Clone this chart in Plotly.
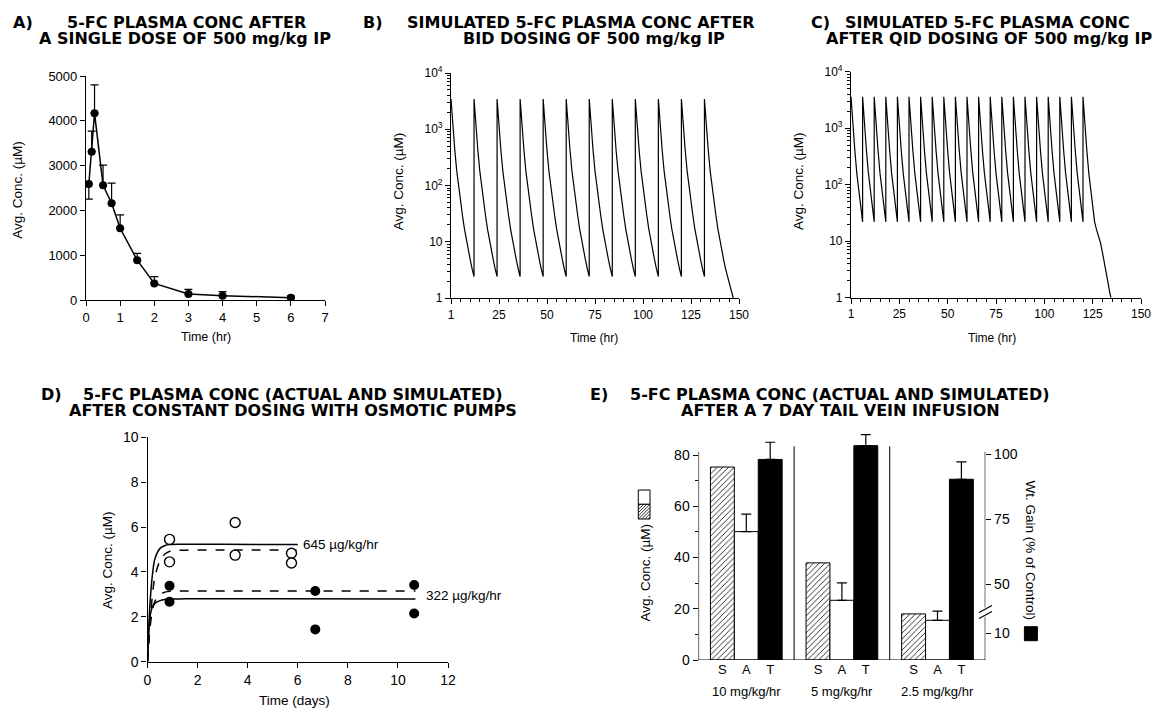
import plotly.graph_objects as go

W, H = 1154, 709

# ---------------- DATA ----------------
# Panel A: single dose
a_time = [0.083, 0.167, 0.25, 0.5, 0.75, 1, 1.5, 2, 3, 4, 6]
a_conc = [2590, 3310, 4170, 2560, 2160, 1600, 890, 370, 135, 97, 52]
a_err_up = [0, 460, 630, 450, 450, 300, 150, 150, 100, 90, 40]
a_err_down = [340, 0, 0, 0, 0, 0, 0, 0, 0, 0, 0]

# Panel B: BID simulated (per-dose profile)
bid_dose_times = [0, 12, 24, 36, 48, 60, 72, 84, 96, 108, 120, 132]
bid_profile_hr = [0, 0.5, 1, 2, 3, 4, 5, 6, 7, 8, 9, 10, 11, 12]
bid_profile_conc = [3450, 1900, 1050, 420, 180, 92, 50, 29, 17, 10.5, 7, 4.8, 3.3, 2.4]
bid_tail_hr = [13, 14, 15]
bid_tail_conc = [1.8, 1.35, 1.0]

# Panel C: QID simulated
qid_dose_times = [0, 6, 12, 18, 24, 30, 36, 42, 48, 54, 60, 66, 72, 78, 84, 90, 96, 102, 108, 114, 120]
qid_profile_hr = [0, 0.5, 1, 2, 3, 4, 5, 6]
qid_profile_conc = [3600, 1950, 1100, 400, 160, 75, 38, 22]
qid_tail_hr = [7, 8, 9, 10, 11, 12, 13, 14, 14.5]
qid_tail_conc = [16, 12.5, 9.5, 6.5, 4.0, 2.6, 1.8, 1.15, 1.0]

# Panel D: osmotic pumps
d_obs645_t = [0.88, 0.88, 3.5, 3.5, 5.75, 5.75]
d_obs645_c = [5.45, 4.45, 6.2, 4.75, 4.83, 4.4]
d_obs322_t = [0.88, 0.88, 6.7, 6.7, 10.65, 10.65]
d_obs322_c = [3.38, 2.67, 3.15, 1.44, 3.42, 2.15]
d_sim645_t = [0, 0.05, 0.1, 0.2, 0.3, 0.5, 0.7, 0.9, 1.5, 3, 6]
d_sim645_solid = [0, 1.5, 2.6, 3.9, 4.6, 5.05, 5.18, 5.22, 5.23, 5.23, 5.22]
d_sim645_dash = [0, 0.9, 1.7, 3.0, 3.8, 4.5, 4.8, 4.92, 4.97, 4.98, 4.98]
d_sim322_t = [0, 0.05, 0.1, 0.2, 0.3, 0.5, 0.7, 0.9, 1.5, 5, 10.7]
d_sim322_solid = [0, 1.3, 2.0, 2.45, 2.6, 2.72, 2.77, 2.79, 2.8, 2.8, 2.79]
d_sim322_dash = [0, 0.8, 1.5, 2.3, 2.7, 3.0, 3.1, 3.14, 3.15, 3.15, 3.15]
d_label_645 = "645 µg/kg/hr"
d_label_322 = "322 µg/kg/hr"

# Panel E: tail vein infusion
e_groups = ["10 mg/kg/hr", "5 mg/kg/hr", "2.5 mg/kg/hr"]
e_sim = [75.3, 37.9, 18.0]          # S, µM
e_act = [50.1, 23.3, 15.5]          # A, µM
e_act_err = [6.8, 6.8, 3.6]
e_wt = [98.0, 103.3, 90.4]          # T, % of control
e_wt_err = [6.6, 4.2, 6.7]
e_bar_letters = ["S", "A", "T"]
e_right_ticks = ["10", "50", "75", "100"]
e_right_tickpos = [31.27, 50, 75, 100]   # positions on the broken right axis

# ---------------- helpers ----------------
def px(p):
    return p / W

def py(p):
    return 1 - p / H

FONT = "Liberation Sans"
TFONT = "DejaVu Sans"

def build_cycles(doses, prof_h, prof_c, tail_h, tail_c):
    xs, ys = [], []
    for i, t in enumerate(doses):
        for h, c in zip(prof_h, prof_c):
            xs.append(t + h)
            ys.append(c)
        if i == len(doses) - 1:
            for h, c in zip(tail_h, tail_c):
                xs.append(t + h)
                ys.append(c)
    return xs, ys

fig = go.Figure()

# A
fig.add_trace(go.Scatter(
    x=a_time, y=a_conc, mode="lines+markers", xaxis="x", yaxis="y",
    line=dict(color="black", width=1.5),
    marker=dict(color="black", size=8),
    error_y=dict(type="data", symmetric=False, array=a_err_up, arrayminus=a_err_down,
                 color="black", thickness=1.2, width=4),
    showlegend=False))

# B
bx, by = build_cycles(bid_dose_times, bid_profile_hr, bid_profile_conc, bid_tail_hr, bid_tail_conc)
fig.add_trace(go.Scatter(x=bx, y=by, mode="lines", xaxis="x2", yaxis="y2",
                         line=dict(color="black", width=1.2), showlegend=False))

# C
cx, cy = build_cycles(qid_dose_times, qid_profile_hr, qid_profile_conc, qid_tail_hr, qid_tail_conc)
fig.add_trace(go.Scatter(x=cx, y=cy, mode="lines", xaxis="x3", yaxis="y3",
                         line=dict(color="black", width=1.2), showlegend=False))

# D
for t, c, dash in [(d_sim645_t, d_sim645_solid, "solid"), (d_sim645_t, d_sim645_dash, "dash"),
                   (d_sim322_t, d_sim322_solid, "solid"), (d_sim322_t, d_sim322_dash, "dash")]:
    fig.add_trace(go.Scatter(x=t, y=c, mode="lines", xaxis="x4", yaxis="y4",
                             line=dict(color="black", width=1.5, dash=dash, shape="spline"),
                             showlegend=False))
fig.add_trace(go.Scatter(x=d_obs645_t, y=d_obs645_c, mode="markers", xaxis="x4", yaxis="y4",
                         marker=dict(color="white", size=10, line=dict(color="black", width=1.4)),
                         showlegend=False))
fig.add_trace(go.Scatter(x=d_obs322_t, y=d_obs322_c, mode="markers", xaxis="x4", yaxis="y4",
                         marker=dict(color="black", size=10), showlegend=False))

# E
pos_s = [4 * i for i in range(len(e_groups))]
pos_a = [4 * i + 1 for i in range(len(e_groups))]
pos_t = [4 * i + 2 for i in range(len(e_groups))]
fig.add_trace(go.Bar(x=pos_s, y=e_sim, width=1, xaxis="x5", yaxis="y5",
                     marker=dict(color="white", line=dict(color="black", width=1),
                                 pattern=dict(shape="/", fgcolor="black", bgcolor="white",
                                              size=4, solidity=0.2)),
                     showlegend=False))
fig.add_trace(go.Bar(x=pos_a, y=e_act, width=1, xaxis="x5", yaxis="y5",
                     marker=dict(color="white", line=dict(color="black", width=1)),
                     error_y=dict(type="data", symmetric=False, array=e_act_err,
                                  arrayminus=[0] * 3, color="black", thickness=1.2, width=5),
                     showlegend=False))
fig.add_trace(go.Bar(x=pos_t, y=e_wt, width=1, xaxis="x5", yaxis="y6",
                     marker=dict(color="black", line=dict(color="black", width=1)),
                     error_y=dict(type="data", symmetric=False, array=e_wt_err,
                                  arrayminus=[0] * 3, color="black", thickness=1.2, width=5),
                     showlegend=False))

# ---------------- axes ----------------
base = dict(showline=True, linecolor="black", linewidth=1.2, ticks="outside", ticklen=5,
            tickwidth=1.2, tickcolor="black", showgrid=False, zeroline=False,
            automargin=False,
            tickfont=dict(family=FONT, size=13, color="black"))

log_tv = [1, 10, 100, 1000, 10000]
log_tt = ["1", "10", "10<sup>2</sup>", "10<sup>3</sup>", "10<sup>4</sup>"]
log_minor = [m * d for d in [1, 10, 100, 1000] for m in range(2, 10)]
hr_tv = [0, 25, 50, 75, 100, 125, 150]
hr_tt = ["1", "25", "50", "75", "100", "125", "150"]

small = dict(base, tickfont=dict(family=FONT, size=12, color="black"))
log_minor_cfg = dict(tickmode="array", tickvals=log_minor, ticks="outside", ticklen=3,
                     tickwidth=1, tickcolor="black", showgrid=False)
hr_minor_cfg = dict(dtick=5, tick0=0, ticks="outside", ticklen=3, tickwidth=1,
                    tickcolor="black", showgrid=False)

layout_axes = dict(
    xaxis=dict(base, domain=[px(86), px(325)], range=[0, 7], dtick=1, anchor="y"),
    yaxis=dict(base, domain=[py(300), py(76)], range=[0, 5000], dtick=1000, anchor="x"),
    xaxis2=dict(small, domain=[px(451), px(739)], range=[0, 150], tickmode="array",
                tickvals=hr_tv, ticktext=hr_tt, anchor="y2", minor=hr_minor_cfg),
    yaxis2=dict(small, domain=[py(298), py(73)], type="log", range=[0, 4], tickmode="array",
                tickvals=log_tv, ticktext=log_tt, anchor="x2", minor=log_minor_cfg),
    xaxis3=dict(small, domain=[px(851), px(1141)], range=[0, 150], tickmode="array",
                tickvals=hr_tv, ticktext=hr_tt, anchor="y3", minor=hr_minor_cfg),
    yaxis3=dict(small, domain=[py(297.7), py(71.7)], type="log", range=[0, 4], tickmode="array",
                tickvals=log_tv, ticktext=log_tt, anchor="x3", minor=log_minor_cfg),
    xaxis4=dict(base, domain=[px(147.5), px(448)], range=[0, 12], dtick=2, anchor="y4",
                tickfont=dict(family=FONT, size=14, color="black")),
    yaxis4=dict(base, domain=[py(661.7), py(437.3)], range=[0, 10], dtick=2, anchor="x4",
                tickfont=dict(family=FONT, size=14, color="black")),
    xaxis5=dict(base, domain=[px(698.5), px(985.3)], range=[-1, 11], anchor="y5",
                showline=False, ticks="", tickmode="array",
                tickvals=pos_s + pos_a + pos_t,
                ticktext=[e_bar_letters[0]] * 3 + [e_bar_letters[1]] * 3 + [e_bar_letters[2]] * 3,
                tickfont=dict(family=FONT, size=13, color="black")),
    yaxis5=dict(base, domain=[py(660), py(660 - 90 * 2.5625)], range=[0, 90], anchor="x5",
                showline=False, tickmode="array", tickvals=[0, 20, 40, 60, 80],
                tickfont=dict(family=FONT, size=14, color="black"),
                minor=dict(tickmode="array", tickvals=[10, 30, 50, 70], ticks="outside",
                           ticklen=3, tickcolor="black", showgrid=False)),
    yaxis6=dict(base, overlaying="y5", side="right", anchor="x5",
                range=[21.04, 21.04 + 90 * 0.9833], showline=False, tickmode="array",
                tickvals=e_right_tickpos, ticktext=e_right_ticks,
                tickfont=dict(family=FONT, size=14, color="black")),
)

# ---------------- annotations ----------------
ann = []

def add_text(text, x, y, size, bold=False, angle=0, xanchor="center", family=None,
             xref="paper", yref="paper"):
    ann.append(dict(text=text, x=x, y=y, xref=xref, yref=yref, showarrow=False,
                    xanchor=xanchor, yanchor="middle", textangle=angle, borderpad=0,
                    font=dict(family=family or (TFONT if bold else FONT), size=size,
                              color="black", weight="bold" if bold else "normal")))

TS = 16
# titles row 1
add_text("A)", px(22.5), py(22.5), TS, bold=True)
add_text("5-FC PLASMA CONC AFTER", px(186.5), py(22.5), TS, bold=True)
add_text("A SINGLE DOSE OF 500 mg/kg IP", px(185), py(38.5), TS, bold=True)
add_text("B)", px(373), py(22.5), TS, bold=True)
add_text("SIMULATED 5-FC PLASMA CONC AFTER", px(581), py(22.5), TS, bold=True)
add_text("BID DOSING OF 500 mg/kg IP", px(594), py(38.5), TS, bold=True)
add_text("C)", px(820), py(22.5), TS, bold=True)
add_text("SIMULATED 5-FC PLASMA CONC", px(987.5), py(22.5), TS, bold=True)
add_text("AFTER QID DOSING OF 500 mg/kg IP", px(989), py(38.5), TS, bold=True)
# titles row 2
add_text("D)", px(51), py(394), TS, bold=True)
add_text("5-FC PLASMA CONC (ACTUAL AND SIMULATED)", px(292.8), py(394), TS, bold=True)
add_text("AFTER CONSTANT DOSING WITH OSMOTIC PUMPS", px(292.8), py(410.5), TS, bold=True)
add_text("E)", px(598.8), py(394), TS, bold=True)
add_text("5-FC PLASMA CONC (ACTUAL AND SIMULATED)", px(840), py(394), TS, bold=True)
add_text("AFTER A 7 DAY TAIL VEIN INFUSION", px(840), py(410.5), TS, bold=True)

# axis titles
add_text("Avg. Conc. (µM)", px(16.7), py(190), 13.5, angle=-90)
add_text("Time (hr)", px(205.5), py(337), 12.5)
add_text("Avg. Conc. (µM)", px(398.3), py(181), 13.5, angle=-90)
add_text("Time (hr)", px(593.5), py(338.3), 12)
add_text("Avg. Conc. (µM)", px(798), py(181), 13.5, angle=-90)
add_text("Time (hr)", px(991.5), py(338.3), 12)
add_text("Avg. Conc. (µM)", px(107), py(560), 13.5, angle=-90)
add_text("Time (days)", px(294.6), py(700), 13.5)
add_text(d_label_645, d_sim645_t[-1] + 0.16, d_sim645_solid[-1], 13.5, xanchor="left",
         xref="x4", yref="y4")
add_text(d_label_322, 11.08, 2.93, 13.5, xanchor="left", xref="x4", yref="y4")
add_text("Avg. Conc. (µM)", px(645), py(572.5), 13.5, angle=-90)
add_text("Wt. Gain (% of Control)", px(1030.5), py(550), 13.5, angle=90)
for i, g in enumerate(e_groups):
    add_text(g, pos_a[i], py(691.7), 13, xref="x5")

# ---------------- shapes (panel E frame, dividers, keys) ----------------
shapes = []
L = dict(color="black", width=1.2)
# left axis line
shapes.append(dict(type="line", xref="x5", yref="y5", x0=-1, x1=-1, y0=0, y1=81.3, line=L))
# right axis line with break
shapes.append(dict(type="line", xref="x5", yref="y5", x0=11, x1=11, y0=0, y1=16.9, line=L))
shapes.append(dict(type="line", xref="x5", yref="y5", x0=11, x1=11, y0=20.5, y1=81.3, line=L))
shapes.append(dict(type="line", xref="paper", yref="paper", x0=px(979), x1=px(992),
                   y0=py(612.5), y1=py(605.5), line=L))
shapes.append(dict(type="line", xref="paper", yref="paper", x0=px(979), x1=px(992),
                   y0=py(618.5), y1=py(611.5), line=L))
# x axis line
shapes.append(dict(type="line", xref="x5", yref="y5", x0=-1.25, x1=11.25, y0=0, y1=0, line=L))
# group dividers
for i in range(1, len(e_groups)):
    xd = 4 * i - 1
    shapes.append(dict(type="line", xref="x5", yref="y5", x0=xd, x1=xd, y0=-2.2, y1=83.4,
                       line=dict(color="black", width=1)))
# legend keys
kx0, kx1 = 638.3, 650.0
shapes.append(dict(type="rect", xref="paper", yref="paper", x0=px(kx0), x1=px(kx1),
                   y0=py(504.3), y1=py(490), line=dict(color="black", width=1), fillcolor="white"))
shapes.append(dict(type="rect", xref="paper", yref="paper", x0=px(kx0), x1=px(kx1),
                   y0=py(519), y1=py(504.3), line=dict(color="black", width=1), fillcolor="white"))
yt, yb = 504.3, 519.0
hh = yb - yt
c = kx0 - hh + 2
while c < kx1:
    sx, sy = c, yb
    if sx < kx0:
        sy = yb - (kx0 - c)
        sx = kx0
    ex, ey = c + hh, yt
    if ex > kx1:
        ey = yb - (kx1 - c)
        ex = kx1
    shapes.append(dict(type="line", xref="paper", yref="paper", x0=px(sx), x1=px(ex),
                       y0=py(sy), y1=py(ey), line=dict(color="black", width=0.8)))
    c += 3.2
shapes.append(dict(type="rect", xref="paper", yref="paper", x0=px(1024.4), x1=px(1037.4),
                   y0=py(640.7), y1=py(626.7), line=dict(color="black", width=1),
                   fillcolor="black"))

fig.update_layout(
    template="none",
    width=W, height=H, autosize=False,
    margin=dict(l=0, r=0, t=0, b=0, pad=0),
    paper_bgcolor="white", plot_bgcolor="white",
    font=dict(family=FONT, color="black"),
    barmode="overlay", showlegend=False,
    annotations=ann, shapes=shapes,
    **layout_axes)

fig.write_html(
    "out.html",
    config={"displayModeBar": False},
    post_script="document.body.style.margin='0';document.body.style.padding='0';"
                "document.documentElement.style.overflow='hidden';",
)
